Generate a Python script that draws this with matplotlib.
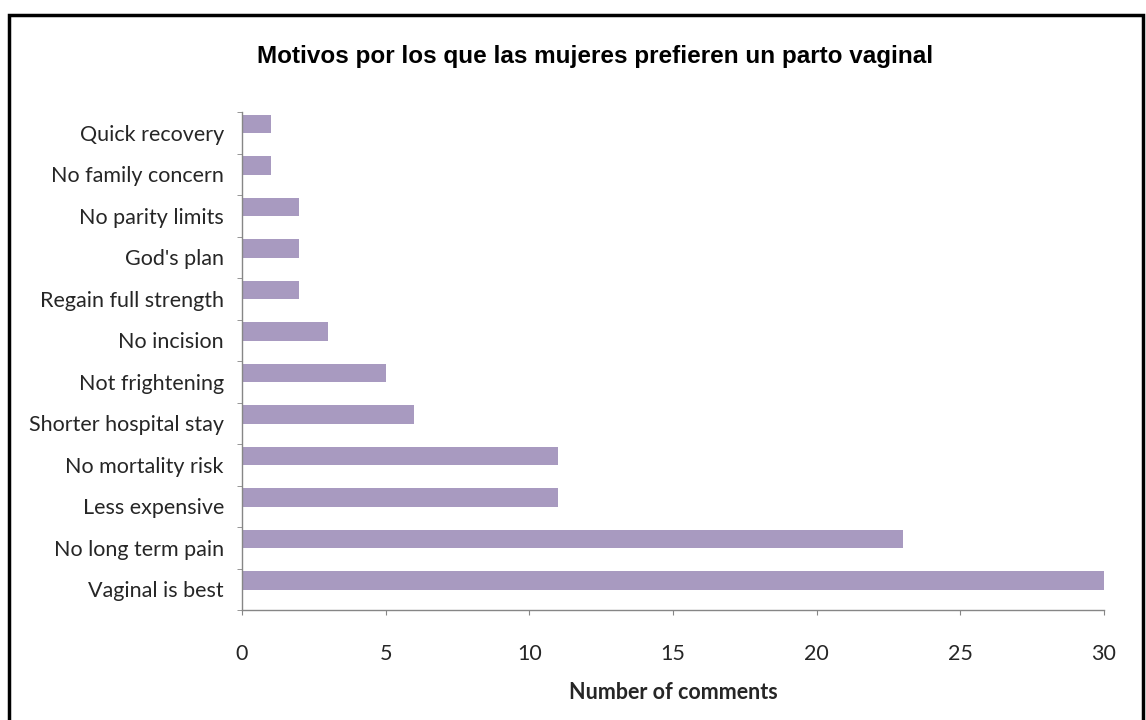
import matplotlib
matplotlib.use("Agg")
import matplotlib.pyplot as plt
import numpy as np
from matplotlib.patches import Rectangle

categories = ["Vaginal is best", "No long term pain", "Less expensive", "No mortality risk",
              "Shorter hospital stay", "Not frightening", "No incision", "Regain full strength",
              "God's plan", "No parity limits", "No family concern", "Quick recovery"]
values = [30, 23, 11, 11, 6, 5, 3, 2, 2, 2, 1, 1]
xticks = [0, 5, 10, 15, 20, 25, 30]
title = "Motivos por los que las mujeres prefieren un parto vaginal"
xlabel = "Number of comments"

fig = plt.figure(figsize=(11.46, 7.2), dpi=100)
ax = fig.add_axes([242/1146, 1-610/720, (1104-242)/1146, (610-112)/720])

pos = np.arange(len(categories))
ax.barh(pos + 0.21, values, height=0.44, color="#A89AC0", edgecolor="none")
ax.set_xlim(0, 30)
ax.set_ylim(-0.5, len(categories) - 0.5)

lab_font = ["Lato", "DejaVu Sans"]
ax.set_yticks(pos)
ax.set_yticklabels(categories, fontsize=15.5, family=lab_font, color="#262626")
ax.tick_params(axis="y", length=0, pad=13)
ax.set_yticks(np.arange(len(categories) + 1) - 0.5, minor=True)
ax.tick_params(axis="y", which="minor", length=3.6, color="#868686", direction="out")

ax.set_xticks(xticks)
ax.set_xticklabels([str(t) for t in xticks], fontsize=15.5, family=lab_font, color="#262626")
ax.tick_params(axis="x", length=3.6, color="#868686", direction="out", pad=21)

for s in ["top", "right"]:
    ax.spines[s].set_visible(False)
for s in ["left", "bottom"]:
    ax.spines[s].set_color("#868686")
    ax.spines[s].set_linewidth(1.0)

ax.set_xlabel(xlabel, fontsize=15.5, family=lab_font, fontweight="bold", color="#262626", labelpad=13)

fig.text(595/1146, 1-56/720, title, ha="center", va="center", fontsize=17.5,
         fontweight="bold", family=["Liberation Sans", "DejaVu Sans"], color="black")

fig.patches.append(Rectangle((9/1146, -0.05), (1143-9)/1146, 1.05 - 15/720,
                             transform=fig.transFigure, fill=False, edgecolor="black",
                             linewidth=2.5))

fig.savefig("out.png", dpi=100)
